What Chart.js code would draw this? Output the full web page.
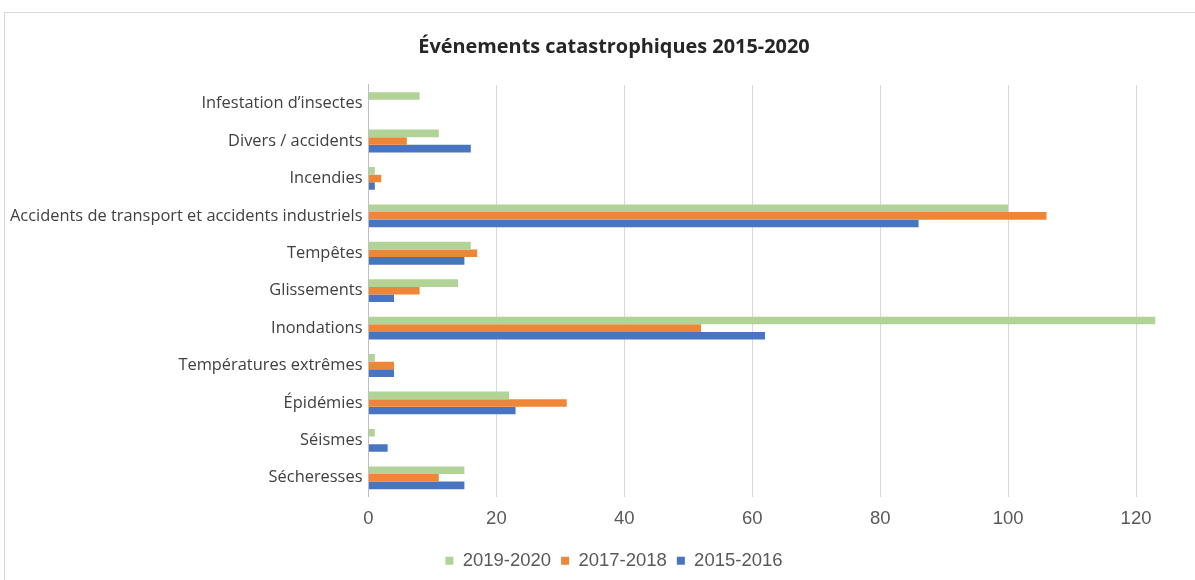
<!DOCTYPE html>
<html>
<head>
<meta charset="utf-8">
<script src="https://cdn.jsdelivr.net/npm/chart.js@4.4.1/dist/chart.umd.min.js"></script>
<style>
    body { margin: 0; overflow: hidden; background: #ffffff; }
    #frame { position: absolute; left: 4px; top: 12px; width: 1300px; height: 700px; border-top: 1px solid #d9d9d9; border-left: 1px solid #d9d9d9; }
    #wrap { position: absolute; left: 0; top: 0; width: 1224px; height: 580px; }
</style>
</head>
<body>
<div id="frame"></div>
<div id="wrap"><canvas id="disasterGraph" width="1224" height="580"></canvas></div>
<script>
var categories = [
    "Infestation d’insectes",
    "Divers / accidents",
    "Incendies",
    "Accidents de transport et accidents industriels",
    "Tempêtes",
    "Glissements",
    "Inondations",
    "Températures extrêmes",
    "Épidémies",
    "Séismes",
    "Sécheresses",
];
var seriesLabels = ["2019-2020", "2017-2018", "2015-2016"];
var values20192020 = [8, 11, 1, 100, 16, 14, 123, 1, 22, 1, 15];
var values20172018 = [0, 6, 2, 106, 17, 8, 52, 4, 31, 0, 11];
var values20152016 = [0, 16, 1, 86, 15, 4, 62, 4, 23, 3, 15];
var seriesColors = ["#b2d396", "#ee8638", "#4874c2"];
var xTickStep = 20;

var disasterGraph;

function create_disaster_graph() {
    if (disasterGraph) {
        disasterGraph.destroy();
    }
    var seriesValues = [values20192020, values20172018, values20152016];
    var datasets = [];
    for (var i = 0; i < seriesLabels.length; i++) {
        datasets.push({
            label: seriesLabels[i],
            data: seriesValues[i],
            backgroundColor: seriesColors[i],
            borderWidth: 0,
            categoryPercentage: 0.61,
            barPercentage: 1.0,
        });
    }
    disasterGraph = new Chart("disasterGraph", {
        type: "bar",
        data: {
            labels: categories,
            datasets: datasets,
        },
        options: {
            indexAxis: "y",
            responsive: false,
            animation: false,
            layout: {
                padding: { top: 35, left: 4, right: 0, bottom: 0 },
            },
            plugins: {
                title: {
                    display: true,
                    text: "Événements catastrophiques 2015-2020",
                    color: "#262626",
                    font: { family: "Open Sans", size: 19.9, weight: "bold", lineHeight: 1.2 },
                    padding: { top: 0, bottom: 26 },
                },
                legend: {
                    position: "bottom",
                    labels: {
                        color: "#595959",
                        font: { family: "Liberation Sans", size: 18.5 },
                        boxWidth: 8,
                        boxHeight: 8,
                        padding: 10,
                    },
                },
                tooltip: { enabled: false },
            },
            scales: {
                x: {
                    min: 0,
                    max: 133.75,
                    afterBuildTicks: (axis) => {
                        axis.ticks = axis.ticks.filter((t) => t.value % xTickStep === 0);
                    },
                    ticks: {
                        stepSize: xTickStep,
                        includeBounds: false,
                        color: "#595959",
                        font: { family: "Liberation Sans", size: 18.5, lineHeight: 2.0 },
                        padding: 4,
                        maxRotation: 0,
                    },
                    grid: {
                        color: "#d9d9d9",
                        drawTicks: false,
                    },
                    border: { display: false },
                },
                y: {
                    ticks: {
                        color: "#404040",
                        font: { family: "Open Sans", size: 16.4 },
                        padding: 6,
                        autoSkip: false,
                    },
                    grid: { display: false, drawTicks: false },
                    border: { display: true, color: "#bfbfbf" },
                },
            },
        },
    });
}

create_disaster_graph();
</script>
</body>
</html>
